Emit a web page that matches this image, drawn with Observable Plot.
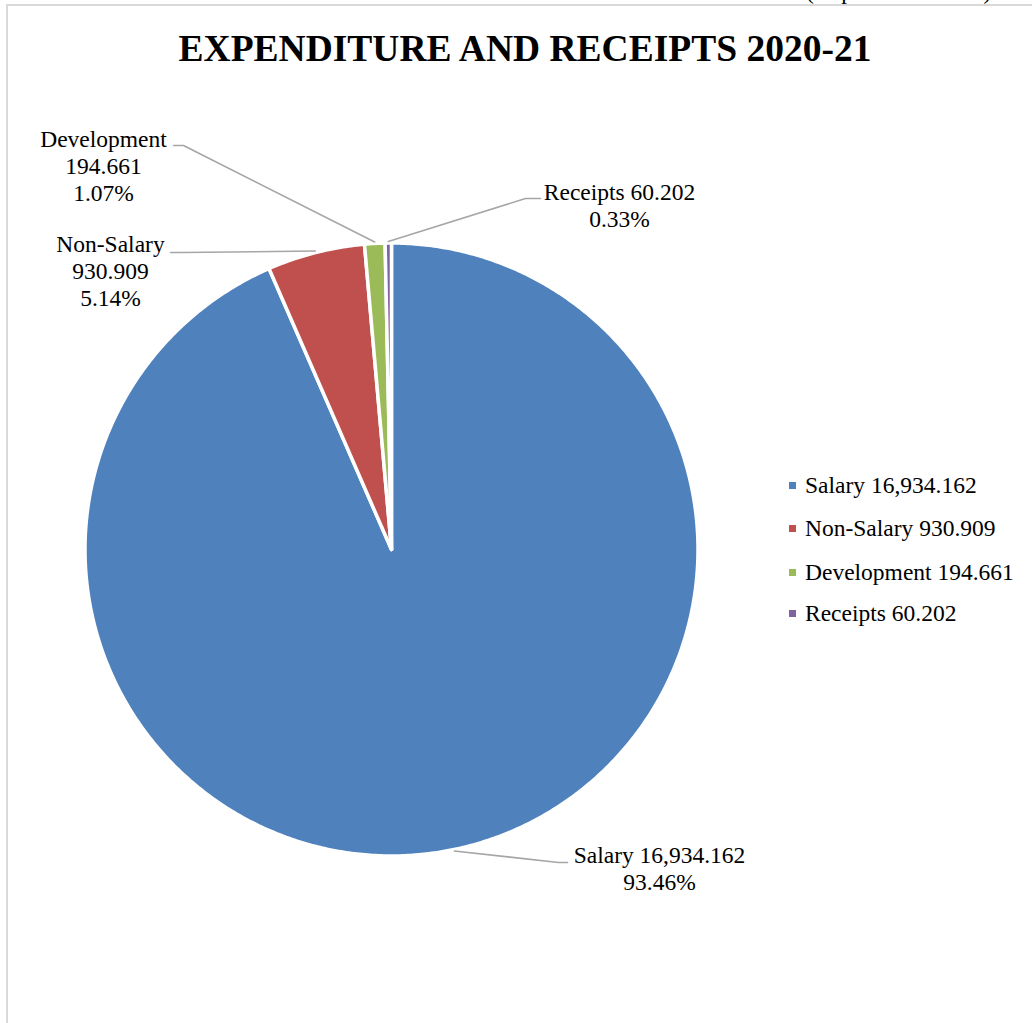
<!DOCTYPE html>
<html><head><meta charset="utf-8">
<script src="https://cdn.jsdelivr.net/npm/d3@7"></script>
<script src="https://cdn.jsdelivr.net/npm/@observablehq/plot@0.6"></script>
<style>
html,body{margin:0;padding:0;background:#fff;}
#wrap{position:relative;width:1032px;height:1023px;overflow:hidden;font-family:"Liberation Serif","Times New Roman",serif;color:#000;}
#frame{position:absolute;left:6px;top:4px;right:-10px;bottom:-10px;border-left:2px solid #d9d9d9;border-top:2px solid #d9d9d9;}
#unit{position:absolute;left:806px;top:-20px;font-size:23.5px;line-height:22px;white-space:nowrap;}
#title{position:absolute;left:0;width:1050px;top:30px;text-align:center;font-weight:bold;font-size:37.5px;line-height:37px;white-space:nowrap;}
#chart{position:absolute;left:0;top:0;}
#legend{position:absolute;left:0;top:0;font-size:23.5px;}
.li{position:absolute;left:789px;height:26px;line-height:26px;display:flex;align-items:center;white-space:nowrap;}
.sw{width:7px;height:7px;margin-right:9px;flex:none;}
</style></head>
<body>
<div id="wrap">
  <div id="frame"></div>
  <div id="unit">(Rupees in Million)</div>
  <div id="chart"></div>
  <div id="title">EXPENDITURE AND RECEIPTS 2020-21</div>
  <div id="legend"></div>
</div>
<script>
// ---- data ----
const categories = ["Salary", "Non-Salary", "Development", "Receipts"];
const values = [16934.162, 930.909, 194.661, 60.202];
const valueLabels = ["16,934.162", "930.909", "194.661", "60.202"];
const percentLabels = ["93.46%", "5.14%", "1.07%", "0.33%"];
const colors = ["#4F81BD", "#C0504D", "#9BBB59", "#8064A2"];

// ---- layout ----
const W = 1032, H = 1023, cx = 391, cy = 549, R = 306.5;
const toX = px => (px - cx) / R, toY = py => (cy - py) / R;
const labelLayout = {
  "Salary":      {elbow: [558, 862], end: [567, 862], text: [659, 867.5], wrap: false},
  "Non-Salary":  {elbow: [181, 252], end: [170, 252], text: [110, 270], wrap: true},
  "Development": {elbow: [183, 145], end: [173, 145], text: [103, 165], wrap: true},
  "Receipts":    {elbow: [525, 198], end: [540, 198], text: [619, 204.5], wrap: false}
};
const legendRows = [485, 528, 572, 613];

const data = categories.map((c, i) => ({cat: c, value: values[i], vlab: valueLabels[i], plab: percentLabels[i]}));
const arcs = d3.pie().sort(null).value(d => d.value)(data);

// slice outlines (geometry sampled along each arc)
const polys = [];
arcs.forEach(a => {
  const cat = a.data.cat;
  polys.push({cat, x: 0, y: 0});
  const n = Math.max(2, Math.ceil((a.endAngle - a.startAngle) / (Math.PI / 360)));
  for (let k = 0; k <= n; k++) {
    const t = a.startAngle + (a.endAngle - a.startAngle) * k / n;
    polys.push({cat, x: Math.sin(t), y: Math.cos(t)});
  }
  polys.push({cat, x: 0, y: 0});
});

// leader lines and labels
const leaders = [];
const labels = [];
arcs.forEach(a => {
  const cat = a.data.cat, L = labelLayout[cat];
  const m = (a.startAngle + a.endAngle) / 2;
  const r0 = 1 + 1.5 / R;
  leaders.push({cat, x: r0 * Math.sin(m), y: r0 * Math.cos(m)});
  leaders.push({cat, x: toX(L.elbow[0]), y: toY(L.elbow[1])});
  leaders.push({cat, x: toX(L.end[0]), y: toY(L.end[1])});
  const txt = L.wrap ? `${cat}\n${a.data.vlab}\n${a.data.plab}` : `${cat} ${a.data.vlab}\n${a.data.plab}`;
  labels.push({cat, x: toX(L.text[0]), y: toY(L.text[1]), txt});
});

const plot = Plot.plot({
  width: W, height: H, margin: 0,
  style: {background: "transparent", overflow: "visible"},
  x: {domain: [toX(0), toX(W)], range: [0, W], axis: null},
  y: {domain: [toY(H), toY(0)], range: [H, 0], axis: null},
  color: {domain: categories, range: colors},
  marks: [
    Plot.line(polys, {x: "x", y: "y", z: "cat", fill: "cat", stroke: "white", strokeWidth: 3.5, strokeLinejoin: "round", curve: "linear"}),
    Plot.line(leaders, {x: "x", y: "y", z: "cat", stroke: "#A6A6A6", strokeWidth: 1.6}),
    Plot.text(labels, {x: "x", y: "y", text: "txt", textAnchor: "middle", lineAnchor: "middle", lineHeight: 27 / 23.5,
      fontSize: 23.5, fontFamily: "Liberation Serif, Times New Roman, serif", fill: "black"})
  ]
});
document.getElementById("chart").appendChild(plot);

// legend
const lg = document.getElementById("legend");
categories.forEach((c, i) => {
  const row = document.createElement("div");
  row.className = "li";
  row.style.top = (legendRows[i] - 13) + "px";
  const sw = document.createElement("span");
  sw.className = "sw"; sw.style.background = colors[i];
  const tx = document.createElement("span");
  tx.textContent = `${c} ${valueLabels[i]}`;
  row.appendChild(sw); row.appendChild(tx);
  lg.appendChild(row);
});
</script>
</body></html>
